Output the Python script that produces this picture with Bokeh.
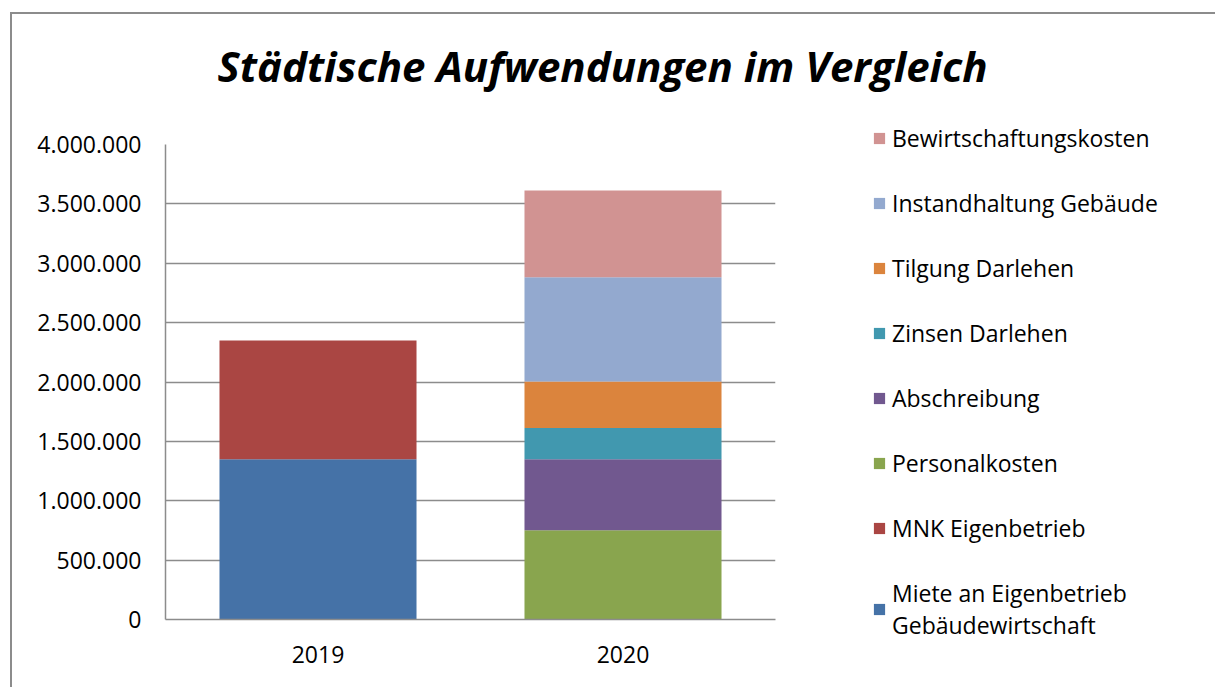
from bokeh.plotting import figure
from bokeh.models import Legend, LegendItem, FixedTicker, CustomJSTickFormatter, Title
from bokeh.embed import file_html
from bokeh.resources import INLINE

years = ["2019", "2020"]
series = [
    "Miete an Eigenbetrieb\nGebäudewirtschaft",
    "MNK Eigenbetrieb",
    "Personalkosten",
    "Abschreibung",
    "Zinsen Darlehen",
    "Tilgung Darlehen",
    "Instandhaltung Gebäude",
    "Bewirtschaftungskosten",
]
miete = [1350000, 0]
mnk = [1000000, 0]
personal = [0, 752000]
abschreibung = [0, 597000]
zinsen = [0, 263000]
tilgung = [0, 393000]
instandhaltung = [0, 878000]
bewirtschaftung = [0, 730000]
colors = ["#4572A7", "#AA4643", "#89A54E", "#71588F", "#4198AF", "#DB843D", "#93A9CF", "#D19392"]
y_ticks = [0, 500000, 1000000, 1500000, 2000000, 2500000, 3000000, 3500000, 4000000]

keys = ["s%d" % i for i in range(len(series))]
data = {"years": years}
for k, v in zip(keys, [miete, mnk, personal, abschreibung, zinsen, tilgung, instandhaltung, bewirtschaftung]):
    data[k] = v

FONT = "Open Sans"

p = figure(x_range=years, y_range=(0, 4000000), frame_width=610, frame_height=475,
           output_backend="svg", toolbar_location=None,
           min_border_left=153, min_border_top=130, min_border_bottom=68, min_border_right=0)
p.styles = {"margin-left": "10px", "margin-top": "12px",
            "border-left": "2px solid #8c8c8c", "border-top": "2px solid #8c8c8c"}

rs = p.vbar_stack(keys, x="years", width=0.646, source=data, color=colors, line_color=None)

# spacer between frame and title
p.add_layout(Title(text=" ", text_font=FONT, text_font_size="10px", standoff=23), "above")
p.add_layout(Title(text="Städtische Aufwendungen im Vergleich", text_font=FONT,
                   text_font_style="bold italic", text_font_size="42px", align="left",
                   vertical_align="top", offset=52, standoff=20, text_color="black"), "above")

p.outline_line_color = None
p.xgrid.grid_line_color = None
p.ygrid.grid_line_color = "#8c8c8c"
p.ygrid.grid_line_width = 1.5
p.yaxis.ticker = FixedTicker(ticks=y_ticks)
p.yaxis.formatter = CustomJSTickFormatter(code="return tick.toString().replace(/\\B(?=(\\d{3})+(?!\\d))/g, '.');")

for ax in (p.xaxis[0], p.yaxis[0]):
    ax.axis_line_color = "#8c8c8c"
    ax.axis_line_width = 1.5
    ax.major_tick_line_color = None
    ax.minor_tick_line_color = None
    ax.major_tick_out = 0
    ax.major_tick_in = 0
    ax.major_label_text_font = FONT
    ax.major_label_text_font_size = "23px"
    ax.major_label_text_color = "black"
p.yaxis.major_label_standoff = 24
p.xaxis.major_label_standoff = 26

items = [LegendItem(label=series[i], renderers=[rs[i]]) for i in reversed(range(len(series)))]
legend = Legend(items=items, location=(97, -22), orientation="vertical",
                margin=0, padding=0, spacing=33, label_height=30,
                glyph_width=14, glyph_height=14, label_standoff=6,
                label_text_font=FONT, label_text_font_size="23px", label_text_color="black",
                border_line_color=None, background_fill_alpha=0)
p.add_layout(legend, "right")

open("out.html", "w").write(file_html(p, INLINE))
